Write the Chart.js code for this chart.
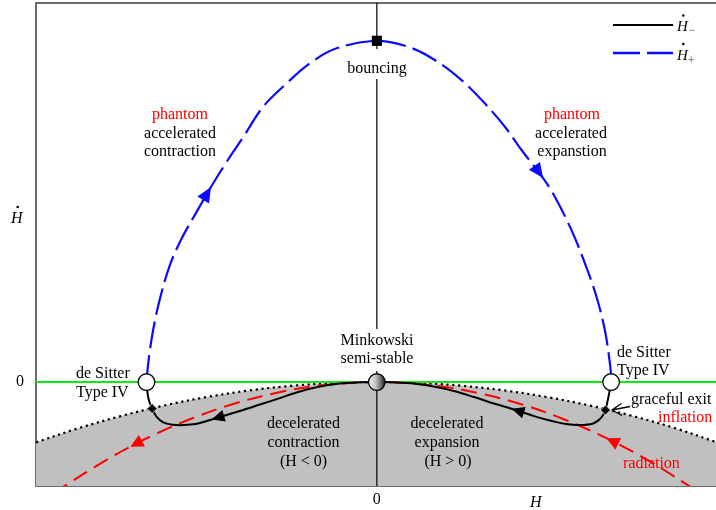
<!DOCTYPE html>
<html>
<head>
<meta charset="utf-8">
<script src="https://cdn.jsdelivr.net/npm/chart.js@4.4.0/dist/chart.umd.min.js"></script>
<style>
  html, body { margin: 0; padding: 0; background: #fff; }
  canvas { display: block; }
</style>
</head>
<body>
<canvas id="phase" width="716" height="510"></canvas>
<script>
// Phase portrait of the Friedmann flow in the (H, dH/dt) plane.

const hRange = [-2.005, 1.995];
const hdotRange = [-6.93, 25.27];

// Acceleration boundary (dotted), below it the decelerated region
const boundaryH    = [-2.005, -1.75, -1.5, -1.25, -1.0, -0.75, -0.5, -0.25, 0, 0.25, 0.5, 0.75, 1.0, 1.25, 1.5, 1.75, 1.995];
const boundaryHdot = [-4.02, -3.06, -2.25, -1.56, -1.0, -0.56, -0.25, -0.06, 0, -0.06, -0.25, -0.56, -1.0, -1.56, -2.25, -3.06, -4.0];

// Radiation trajectory (red dashed), listed along the flow: right -> origin -> left
const radiationH    = [1.87, 1.6, 1.351, 1.1, 0.85, 0.6, 0.35, 0, -0.35, -0.6, -0.85, -1.1, -1.3, -1.45, -1.6, -1.85];
const radiationHdot = [-7.17, -5.25, -3.74, -2.48, -1.48, -0.74, -0.25, 0, -0.25, -0.74, -1.48, -2.48, -3.46, -4.31, -5.25, -7.02];
const radiationArrows = [2, 13];

// Branch dH/dt (-) (black solid), listed along the flow: right de Sitter -> Minkowski -> left de Sitter
const minusH    = [1.378, 1.368, 1.356, 1.345, 1.331, 1.312, 1.272, 1.194, 1.112, 1.041, 0.924, 0.792, 0.688, 0.571, 0.453, 0.335, 0.218, 0.1, 0,
                   -0.1, -0.218, -0.335, -0.453, -0.571, -0.688, -0.806, -0.972, -1.041, -1.082, -1.178, -1.257, -1.296, -1.322, -1.338, -1.350, -1.355];
const minusHdot = [0, -0.67, -1.33, -1.87, -2.2, -2.47, -2.76, -2.87, -2.8, -2.63, -2.27, -1.78, -1.43, -1.0, -0.6, -0.3, -0.1, -0.02, 0,
                   -0.02, -0.1, -0.3, -0.63, -1.07, -1.5, -1.93, -2.5, -2.73, -2.82, -2.87, -2.69, -2.31, -1.77, -1.33, -0.67, 0];
const minusArrows = [11, 26];

// Branch dH/dt (+) (blue dashed), listed along the flow: left de Sitter -> bounce -> right de Sitter
const plusH    = [-1.355, -1.345, -1.316, -1.276, -1.218, -1.149, -1.061, -0.976, -0.884, -0.786, -0.669, -0.531, -0.394, -0.237, 0,
                  0.184, 0.341, 0.498, 0.635, 0.753, 0.851, 0.978, 1.047, 1.145, 1.224, 1.292, 1.341, 1.371, 1.381];
const plusHdot = [0, 1.25, 3.47, 5.55, 7.78, 9.55, 11.33, 13.0, 14.67, 16.33, 18.35, 19.91, 21.25, 22.25, 22.75,
                  22.35, 21.47, 20.13, 18.58, 17.02, 15.47, 13.6, 12.35, 10.13, 7.91, 5.69, 3.47, 1.25, 0];
const plusArrows = [7, 21];

// Fixed points
const deSitterH = [-1.355, 1.378];
const exitH     = [-1.322, 1.345];
const exitHdot  = [-1.77, -1.87];
const bounceHdot = 22.75;

const zip = (xs, ys) => xs.map((x, i) => ({ x, y: ys[i] }));

const SERIF = '"Liberation Serif", "Times New Roman", serif';
const RED = '#ff0000';
const BLUE = '#0a0aff';

const curveBase = { pointRadius: 0, pointHoverRadius: 0, fill: false, tension: 0.35, showLine: true };

const datasets = [
  { ...curveBase, label: 'decelerated', data: zip(boundaryH, boundaryHdot), borderWidth: 0,
    borderColor: 'rgba(0,0,0,0)', backgroundColor: '#c0c0c0', fill: 'start', order: 20 },
  { ...curveBase, label: 'boundary', data: zip(boundaryH, boundaryHdot), borderColor: '#000',
    borderWidth: 2.2, borderDash: [2.2, 3.6], order: 19 },
  { ...curveBase, label: 'zero', data: zip(hRange, [0, 0]), borderColor: '#14e614', borderWidth: 2, tension: 0, order: 18 },
  { ...curveBase, label: 'radiation', data: zip(radiationH, radiationHdot), borderColor: RED,
    borderWidth: 2, borderDash: [16, 8], order: 17, arrowAt: radiationArrows, arrowSize: [13, 6.5] },
  { ...curveBase, label: 'H axis', data: zip([0, 0], hdotRange), borderColor: '#000', borderWidth: 1.2, tension: 0, order: 16 },
  { ...curveBase, label: 'minus', data: zip(minusH, minusHdot), borderColor: '#000', borderWidth: 2, order: 15,
    arrowAt: minusArrows, arrowSize: [13, 6] },
  { ...curveBase, label: 'plus', data: zip(plusH, plusHdot), borderColor: BLUE, borderWidth: 2.2,
    borderDash: [27, 7], order: 14, arrowAt: plusArrows, arrowSize: [15, 6.8] },
  { label: 'de Sitter', data: zip(deSitterH, [0, 0]), showLine: false, pointStyle: 'circle', pointRadius: 8.3,
    backgroundColor: '#fff', borderColor: '#000', borderWidth: 1.3, order: 5 },
  { label: 'graceful exit', data: zip(exitH, exitHdot), showLine: false, pointStyle: 'rectRot', pointRadius: 5,
    backgroundColor: '#000', borderColor: '#fff', borderWidth: 0.8, order: 4 },
  { label: 'bouncing', data: [{ x: 0, y: bounceHdot }], showLine: false, pointStyle: 'rect', pointRadius: 7.2,
    backgroundColor: '#000', borderColor: '#000', borderWidth: 0, order: 3 },
  { label: 'Minkowski', data: [{ x: 0, y: 0 }], showLine: false, pointStyle: 'circle', pointRadius: 8.3,
    borderColor: '#000', borderWidth: 1.3, order: 2,
    backgroundColor: (c) => {
      const xs = c.chart.scales && c.chart.scales.x;
      if (!xs || !isFinite(xs.getPixelForValue(0))) return '#888';
      const px = xs.getPixelForValue(0);
      const g = c.chart.ctx.createLinearGradient(px - 8, 0, px + 8, 0);
      g.addColorStop(0, '#f4f4f4');
      g.addColorStop(0.45, '#bdbdbd');
      g.addColorStop(0.78, '#666');
      g.addColorStop(1, '#1a1a1a');
      return g;
    } }
];

// Arrowheads along trajectories, pointing with the flow
const flowArrows = {
  id: 'flowArrows',
  afterDatasetsDraw(chart) {
    const ctx = chart.ctx;
    chart.data.datasets.forEach((ds, i) => {
      if (!ds.arrowAt) return;
      const pts = chart.getDatasetMeta(i).data;
      const [len, hw] = ds.arrowSize || [13, 6];
      ds.arrowAt.forEach(k => {
        const p = pts[k], a = pts[k - 1], b = pts[k + 1];
        let dx = b.x - a.x, dy = b.y - a.y;
        const L = Math.hypot(dx, dy); dx /= L; dy /= L;
        ctx.save();
        ctx.fillStyle = ds.borderColor;
        ctx.beginPath();
        ctx.moveTo(p.x, p.y);
        ctx.lineTo(p.x - dx * len - dy * hw, p.y - dy * len + dx * hw);
        ctx.lineTo(p.x - dx * len + dy * hw, p.y - dy * len - dx * hw);
        ctx.closePath();
        ctx.fill();
        ctx.restore();
      });
    });
  }
};

// Region and point annotations
const notes = [
  { t: 'phantom', x: 180, y: 119, c: RED },
  { t: 'accelerated', x: 180, y: 137.5 },
  { t: 'contraction', x: 180, y: 156 },
  { t: 'phantom', x: 572, y: 119, c: RED },
  { t: 'accelerated', x: 571, y: 137.5 },
  { t: 'expanstion', x: 572, y: 156 },
  { t: 'bouncing', x: 377, y: 73, bg: [344, 49, 66, 30] },
  { t: 'Minkowski', x: 377, y: 345, bg: [337, 329, 80, 42] },
  { t: 'semi-stable', x: 377, y: 363 },
  { t: 'de Sitter', x: 76, y: 378, a: 'left' },
  { t: 'Type IV', x: 76, y: 396.5, a: 'left' },
  { t: 'de Sitter', x: 617, y: 357, a: 'left' },
  { t: 'Type IV', x: 617, y: 375, a: 'left' },
  { t: 'decelerated', x: 303.5, y: 428 },
  { t: 'contraction', x: 303.5, y: 447 },
  { t: '(H < 0)', x: 303.5, y: 465.5 },
  { t: 'decelerated', x: 447, y: 428 },
  { t: 'expansion', x: 447, y: 447 },
  { t: '(H > 0)', x: 448, y: 465.5 },
  { t: 'graceful exit', x: 631, y: 404, a: 'left' },
  { t: 'inflation', x: 658, y: 421.5, a: 'left', c: RED },
  { t: 'radiation', x: 623, y: 468.3, a: 'left', c: RED }
];

function hDot(ctx, x, baseline, size, dotY) {
  ctx.font = 'italic ' + size + 'px ' + SERIF;
  ctx.textAlign = 'left';
  ctx.textBaseline = 'alphabetic';
  ctx.fillText('H', x, baseline);
  const w = ctx.measureText('H').width;
  ctx.beginPath();
  ctx.arc(x + w * 0.58, dotY, size * 0.085, 0, Math.PI * 2);
  ctx.fill();
  return w;
}

const annotations = {
  id: 'annotations',
  afterDraw(chart) {
    const ctx = chart.ctx;
    ctx.save();
    notes.forEach(n => {
      if (n.bg) { ctx.fillStyle = '#fff'; ctx.fillRect(n.bg[0], n.bg[1], n.bg[2], n.bg[3]); }
    });
    ctx.font = '16px ' + SERIF;
    ctx.textBaseline = 'alphabetic';
    notes.forEach(n => {
      ctx.fillStyle = n.c || '#000';
      ctx.textAlign = n.a || 'center';
      ctx.fillText(n.t, n.x, n.y);
    });

    // pointer to the graceful-exit point
    ctx.strokeStyle = '#000';
    ctx.lineWidth = 1.3;
    ctx.beginPath();
    ctx.moveTo(630, 406.5); ctx.lineTo(612, 410);
    ctx.moveTo(621.5, 403.5); ctx.lineTo(612, 410); ctx.lineTo(622, 415.5);
    ctx.stroke();

    // axis titles
    ctx.fillStyle = '#000';
    hDot(ctx, 11, 223, 16, 207);
    ctx.font = 'italic 16px ' + SERIF;
    ctx.textAlign = 'left';
    ctx.fillText('H', 530, 506.5);

    // key
    ctx.lineWidth = 2;
    ctx.strokeStyle = '#000';
    ctx.beginPath(); ctx.moveTo(613, 25); ctx.lineTo(673, 25); ctx.stroke();
    ctx.strokeStyle = BLUE;
    ctx.lineWidth = 2.4;
    ctx.setLineDash([27, 7]);
    ctx.beginPath(); ctx.moveTo(613, 53); ctx.lineTo(673, 53); ctx.stroke();
    ctx.setLineDash([]);
    ctx.fillStyle = '#000';
    let w = hDot(ctx, 677, 31, 15, 15.5);
    ctx.fillStyle = '#555';
    ctx.font = '12px ' + SERIF;
    ctx.fillText('\u2212', 677 + w + 1, 34);
    ctx.fillStyle = '#000';
    w = hDot(ctx, 677, 60, 15, 44);
    ctx.fillStyle = '#333';
    ctx.font = '12px ' + SERIF;
    ctx.fillText('+', 677 + w, 64);
    ctx.restore();
  }
};

const frame = { display: true, color: '#6b6b6b', width: 2 };
const tickFont = { family: SERIF, size: 16 };

// tick labels must not push the plot area inwards
function pinSize(prop, size) {
  return s => {
    s[prop] = size;
    s.paddingTop = 0; s.paddingBottom = 0; s.paddingLeft = 0; s.paddingRight = 0;
  };
}

new Chart(document.getElementById('phase'), {
  type: 'line',
  data: { datasets },
  options: {
    responsive: false,
    animation: false,
    events: [],
    layout: { padding: 0, autoPadding: false },
    plugins: { legend: { display: false }, tooltip: { enabled: false } },
    scales: {
      x: {
        type: 'linear', position: 'bottom', min: hRange[0], max: hRange[1],
        grid: { display: false, drawTicks: false }, border: frame,
        ticks: { padding: 4, color: '#000', font: tickFont, maxRotation: 0 },
        afterBuildTicks: s => { s.ticks = [{ value: 0 }]; },
        afterFit: pinSize('height', 24)
      },
      xTop: {
        type: 'linear', position: 'top', axis: 'x', min: hRange[0], max: hRange[1],
        grid: { display: false, drawTicks: false }, border: frame,
        ticks: { display: false },
        afterBuildTicks: s => { s.ticks = []; },
        afterFit: pinSize('height', 3)
      },
      y: {
        type: 'linear', position: 'left', min: hdotRange[0], max: hdotRange[1],
        grid: { display: false, drawTicks: false }, border: frame,
        ticks: { padding: 12, color: '#000', font: tickFont },
        afterBuildTicks: s => { s.ticks = [{ value: 0 }]; },
        afterFit: pinSize('width', 36)
      }
    }
  },
  plugins: [flowArrows, annotations]
});
</script>
</body>
</html>
